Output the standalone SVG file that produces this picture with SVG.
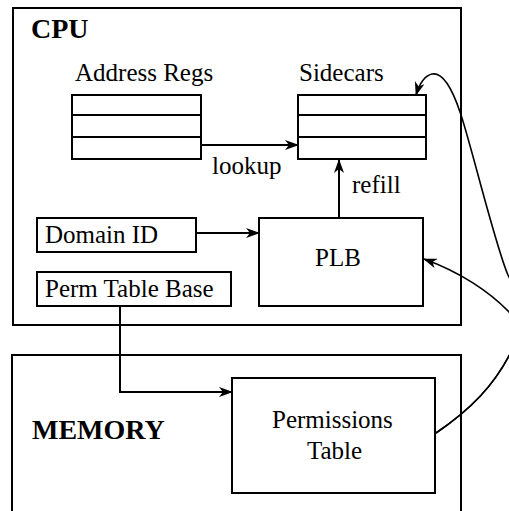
<svg xmlns="http://www.w3.org/2000/svg" width="509" height="511" viewBox="0 0 509 511">
<defs>
<marker id="ah" markerWidth="14" markerHeight="10" refX="13" refY="5" orient="auto" markerUnits="userSpaceOnUse">
<path d="M0,0 L14,5 L0,10 L4,5 z" fill="#000"/>
</marker>
<style>
.box{fill:#fff;stroke:#000;stroke-width:2}
.frame{fill:none;stroke:#000;stroke-width:2}
.t{font-family:"Liberation Serif","Times New Roman",serif;font-size:25px;fill:#000}
.b{font-family:"Liberation Serif","Times New Roman",serif;font-size:28px;font-weight:bold;fill:#000}
.c{fill:none;stroke:#000;stroke-width:2;marker-end:url(#ah)}
.cv{fill:none;stroke:#000;stroke-width:1.6;marker-end:url(#ah)}
</style>
</defs>
<rect fill="#fff" x="0" y="0" width="509" height="511"/>
<g id="cpu">
<rect class="frame" x="13" y="8" width="448" height="317"/>
<text class="b" x="31" y="38">CPU</text>
</g>
<g id="memory">
<rect class="frame" x="12" y="355" width="449" height="180"/>
<text class="b" x="32" y="439">MEMORY</text>
</g>
<g id="address-regs">
<text class="t" x="75" y="81">Address Regs</text>
<rect class="box" x="72" y="95" width="129" height="64"/>
<line x1="72" y1="115" x2="201" y2="115" stroke="#000" stroke-width="2"/>
<line x1="72" y1="137" x2="201" y2="137" stroke="#000" stroke-width="2"/>
</g>
<g id="sidecars">
<text class="t" x="299" y="81">Sidecars</text>
<rect class="box" x="298" y="95" width="128" height="64"/>
<line x1="298" y1="115" x2="426" y2="115" stroke="#000" stroke-width="2"/>
<line x1="298" y1="137" x2="426" y2="137" stroke="#000" stroke-width="2"/>
</g>
<g id="domain-id">
<rect class="box" x="37" y="218" width="159" height="34"/>
<text class="t" x="45" y="243">Domain ID</text>
</g>
<g id="perm-table-base">
<rect class="box" x="37" y="272" width="194" height="34"/>
<text class="t" x="45" y="297">Perm Table Base</text>
</g>
<g id="plb">
<rect class="box" x="259" y="218" width="164" height="88"/>
<text class="t" x="315" y="266">PLB</text>
</g>
<g id="permissions-table">
<rect class="box" x="232" y="378" width="203" height="115"/>
<text class="t" x="272" y="428">Permissions</text>
<text class="t" x="307" y="459">Table</text>
</g>
<g id="connectors">
<line class="c" x1="201" y1="145" x2="298" y2="145"/>
<text class="t" x="212" y="174">lookup</text>
<line class="c" x1="339" y1="218" x2="339" y2="160"/>
<text class="t" x="352" y="193">refill</text>
<line class="c" x1="196" y1="233" x2="259" y2="233"/>
<polyline class="c" points="120,306 120,392 232,392"/>
<path class="cv" d="M436,433 C470,410 495,385 512,350 C524,322 520,300 508,275 C495,245 470,140 460,112 C452,88 443,72 432,74 C424,76 419,85 416,95"/>
<path class="cv" d="M436,433 C470,410 495,385 512,350 C518,338 518,325 509,312 C490,292 460,272 424,259"/>
</g>
</svg>
